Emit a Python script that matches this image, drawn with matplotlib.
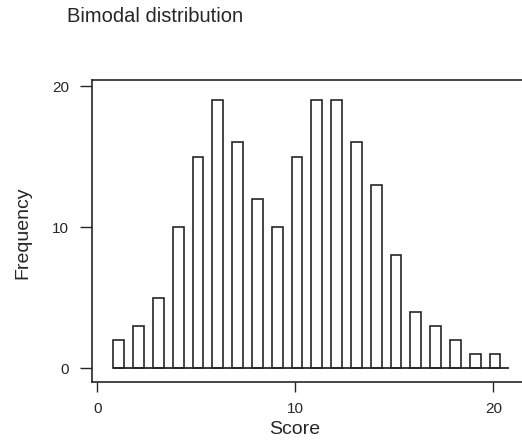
import matplotlib
matplotlib.use("Agg")
import matplotlib.pyplot as plt

plt.rcParams["font.family"] = ["Liberation Sans", "DejaVu Sans"]

# dados
scores = [1, 2, 3, 4, 5, 6, 7, 8, 9, 10, 11, 12, 13, 14, 15, 16, 17, 18, 19, 20]
freqs = [2, 3, 5, 10, 15, 19, 16, 12, 10, 15, 19, 19, 16, 13, 8, 4, 3, 2, 1, 1]
x_ticks = [0, 10, 20]
y_ticks = [0, 10, 20]

INK = "#262626"

fig = plt.figure(figsize=(5.22, 4.43), dpi=100)
# a caixa do gráfico é cortada na margem direita, como na imagem original
ax = fig.add_axes([0.176, 0.1377, 0.85, 0.6817])

ax.bar([s + 0.08 for s in scores], freqs, width=0.55, facecolor="white",
       edgecolor=INK, linewidth=1.2, zorder=3)
ax.hlines(0, scores[0] - 0.2, scores[-1] + 0.8, color=INK, linewidth=1.3, zorder=4)

ax.set_xlim(-0.28, 22.13)
ax.set_ylim(-0.99, 20.43)
ax.set_xticks(x_ticks)
ax.set_yticks(y_ticks)
ax.tick_params(axis="x", length=7.2, width=1.0, pad=7, color=INK, labelsize=11, labelcolor=INK)
ax.tick_params(axis="y", length=8.6, width=1.0, pad=8, color=INK, labelsize=11, labelcolor=INK)
for sp in ax.spines.values():
    sp.set_color(INK)
    sp.set_linewidth(1.2)

ax.set_xlabel("Score", fontsize=14, color=INK)
ax.set_ylabel("Frequency", fontsize=14, color=INK)
w_px = 0.85 * 522
ax.xaxis.set_label_coords((295 - 92) / w_px, -(430 - 382) / 302, transform=ax.transAxes)
ax.yaxis.set_label_coords(-(92 - 23) / w_px, (382 - 233) / 302, transform=ax.transAxes)
ax.xaxis.label.set_va("center")
ax.yaxis.label.set_va("center")

fig.text(67 / 522, 1 - 17 / 443, "Bimodal distribution", fontsize=14.5,
         color=INK, ha="left", va="center")

fig.savefig("out.png", dpi=100)
